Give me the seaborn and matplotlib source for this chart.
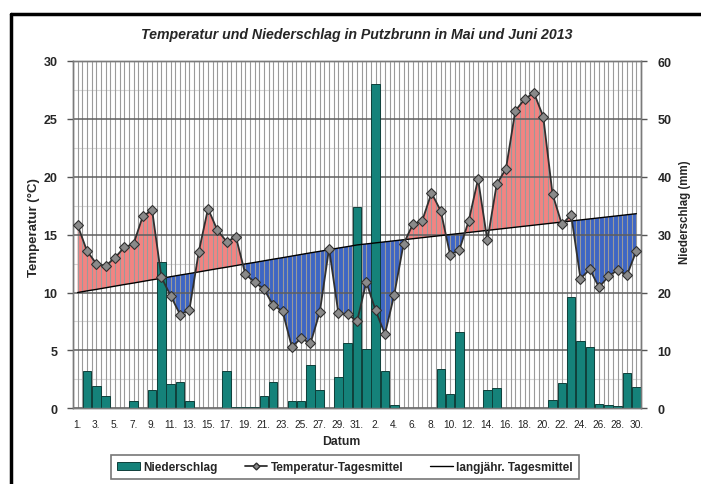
import numpy as np
import pandas as pd
import matplotlib
matplotlib.use("Agg")
import matplotlib.pyplot as plt
from matplotlib.lines import Line2D
from matplotlib.patches import Patch
from matplotlib.ticker import FixedLocator
import seaborn as sns

# ---------------- data ----------------
title = "Temperatur und Niederschlag in Putzbrunn in Mai und Juni 2013"
may_days = list(range(1, 32))
june_days = list(range(1, 31))
day_labels = [f"{d}." for d in may_days] + [f"{d}." for d in june_days]

temperature = [
    15.8, 13.6, 12.5, 12.3, 13.0, 13.9, 14.2, 16.6, 17.1, 11.3,
    9.7, 8.1, 8.5, 13.5, 17.25, 15.4, 14.4, 14.8, 11.6, 10.9,
    10.3, 8.9, 8.4, 5.3, 6.05, 5.6, 8.3, 13.8, 8.2, 8.15, 7.5,
    10.9, 8.45, 6.4, 9.8, 14.2, 15.9, 16.2, 18.6, 17.05, 13.25,
    13.7, 16.2, 19.8, 14.5, 19.35, 20.7, 25.7, 26.7, 27.25, 25.2,
    18.5, 15.9, 16.7, 11.2, 12.0, 10.45, 11.4, 11.95, 11.5, 13.6,
]

long_term_mean = [
    10.00, 10.14, 10.27, 10.41, 10.55, 10.69, 10.82, 10.96, 11.10, 11.23,
    11.37, 11.51, 11.64, 11.78, 11.92, 12.06, 12.19, 12.33, 12.47, 12.60,
    12.74, 12.88, 13.01, 13.15, 13.29, 13.43, 13.56, 13.70, 13.84, 13.97, 14.11,
    14.20, 14.29, 14.38, 14.47, 14.56, 14.65, 14.74, 14.83, 14.92, 15.01,
    15.10, 15.19, 15.28, 15.37, 15.46, 15.55, 15.64, 15.73, 15.82, 15.91,
    16.00, 16.09, 16.18, 16.27, 16.36, 16.45, 16.54, 16.63, 16.72, 16.81,
]

precipitation = [
    0.0, 6.4, 3.9, 2.1, 0.0, 0.0, 1.3, 0.0, 3.2, 25.2,
    4.2, 4.6, 1.2, 0.0, 0.0, 0.0, 6.4, 0.2, 0.2, 0.2,
    2.1, 4.6, 0.0, 1.2, 1.2, 7.4, 3.2, 0.0, 5.4, 11.3, 34.7,
    10.3, 56.0, 6.5, 0.6, 0.0, 0.0, 0.0, 0.0, 6.8, 2.4,
    13.1, 0.0, 0.0, 3.1, 3.5, 0.0, 0.0, 0.0, 0.0, 0.0,
    1.5, 4.3, 19.2, 11.7, 10.6, 0.8, 0.6, 0.4, 6.1, 3.6,
]

temp_ticks = [0, 5, 10, 15, 20, 25, 30]
temp_minor = [2.5, 7.5, 12.5, 17.5, 22.5, 27.5]
prec_ticks = [0, 10, 20, 30, 40, 50, 60]

# ---------------- style ----------------
PINK = "#F28482"
BLUE = "#3E66C4"
TEAL = "#15827A"
TEAL_EDGE = "#0E3F3A"
GRID = "#9A9A9A"

sns.set_style("white")
plt.rcParams["font.family"] = ["Liberation Sans", "DejaVu Sans"]

df = pd.DataFrame({
    "pos": np.arange(len(day_labels)),
    "day": day_labels,
    "temp": temperature,
    "lt": long_term_mean,
    "prec": precipitation,
})

W, H = 701, 485
fig = plt.figure(figsize=(W / 100, H / 100), dpi=100)
fig.patch.set_facecolor("white")

L, R, T, B = 73, 641, 62, 409.3
ax = fig.add_axes([L / W, 1 - B / H, (R - L) / W, (B - T) / H])
ax2 = ax.twinx()
ax3 = ax.twinx()

# faint intermediate horizontal lines (behind the fills)
for v in temp_minor:
    ax.axhline(v, color="#D6D6D6", lw=0.8, zorder=0.5)

# fill between daily mean and long-term mean
x = df["pos"].to_numpy(dtype=float)
t = df["temp"].to_numpy()
lt = df["lt"].to_numpy()
ax.fill_between(x, t, lt, where=t >= lt, interpolate=True, color=PINK, lw=0, zorder=1)
ax.fill_between(x, t, lt, where=t <= lt, interpolate=True, color=BLUE, lw=0, zorder=1)

# precipitation bars
sns.barplot(data=df, x="pos", y="prec", ax=ax2, color=TEAL, saturation=1,
            width=0.92, edgecolor=TEAL_EDGE, linewidth=0.7)

# temperature lines
sns.lineplot(data=df, x="pos", y="lt", ax=ax3, color="black", lw=1.0)
sns.lineplot(data=df, x="pos", y="temp", ax=ax3, color="#303030", lw=1.3,
             marker="D", markersize=4.8, markerfacecolor="#8A8A8A",
             markeredgecolor="#303030", markeredgewidth=0.8)

# ---------------- axes ----------------
ax.set_ylim(0, 30)
ax3.set_ylim(0, 30)
ax2.set_ylim(0, 60)
ax.set_xlim(-0.5, len(day_labels) - 0.5)
ax3.axis("off")

ax.set_axisbelow(False)
ax.xaxis.set_major_locator(FixedLocator(list(range(len(day_labels)))))
ax.xaxis.set_minor_locator(FixedLocator([i - 0.5 for i in range(len(day_labels) + 1)]))
ax.set_xticklabels([lab if i % 2 == 0 else "" for i, lab in enumerate(day_labels)],
                   fontsize=7.3, color="#222222")
ax.tick_params(axis="x", which="major", length=0, pad=8)
ax.tick_params(axis="x", which="minor", length=3, color="#555555", width=0.8)

ax.set_yticks(temp_ticks)
ax.set_yticklabels([str(v) for v in temp_ticks], fontsize=9, fontweight="bold")
ax.tick_params(axis="y", which="major", length=4, color="#555555", width=1, pad=7)

ax2.set_yticks(prec_ticks)
ax2.set_yticklabels([str(v) for v in prec_ticks], fontsize=9, fontweight="bold")
ax2.tick_params(axis="y", length=4, color="#555555", width=1, pad=8)

ax.grid(True, which="both", axis="x", color=GRID, lw=0.8)
ax.grid(True, which="major", axis="y", color="#5E5E5E", lw=1.1)

for a in (ax, ax2):
    for s in a.spines.values():
        s.set_color("#7A7A7A")
        s.set_linewidth(1.0)
ax.set_xlabel("")
ax.set_ylabel("")
ax2.set_ylabel("")

# ---------------- texts ----------------
fig.text(357 / W, 1 - 35 / H, title, ha="center", va="center",
         fontsize=10.2, fontweight="bold", fontstyle="italic")
fig.text(34 / W, 1 - 228 / H, "Temperatur (°C)", rotation=90, ha="center",
         va="center", fontsize=9.5, fontweight="bold")
fig.text(685 / W, 1 - 212 / H, "Niederschlag (mm)", rotation=90, ha="center",
         va="center", fontsize=8.3, fontweight="bold")
fig.text(341 / W, 1 - 442 / H, "Datum", ha="center", va="center",
         fontsize=8.8, fontweight="bold")

handles = [
    Patch(facecolor=TEAL, edgecolor=TEAL_EDGE, lw=0.7),
    Line2D([], [], color="#303030", lw=1.3, marker="D", markersize=3.5,
           markerfacecolor="#8A8A8A", markeredgecolor="#303030"),
    Line2D([], [], color="black", lw=1.0),
]
labels = ["Niederschlag", "Temperatur-Tagesmittel", "langjähr. Tagesmittel"]
leg = fig.legend(handles, labels, loc="center", bbox_to_anchor=(345 / W, 1 - 468 / H),
                 ncol=3, frameon=True, fancybox=False, edgecolor="#555555",
                 prop={"size": 8.5, "weight": "bold"}, handlelength=1.9,
                 handleheight=0.6, handletextpad=0.3, columnspacing=2.3,
                 borderpad=0.5)
leg.get_frame().set_linewidth(1.2)

# figure frame (top and left)
fig.add_artist(Line2D([11 / W, 1], [1 - 14.5 / H, 1 - 14.5 / H], color="black",
                      lw=2.5, transform=fig.transFigure))
fig.add_artist(Line2D([11 / W, 11 / W], [0, 1 - 14.5 / H], color="black",
                      lw=2.5, transform=fig.transFigure))

fig.savefig("out.png", dpi=100)
